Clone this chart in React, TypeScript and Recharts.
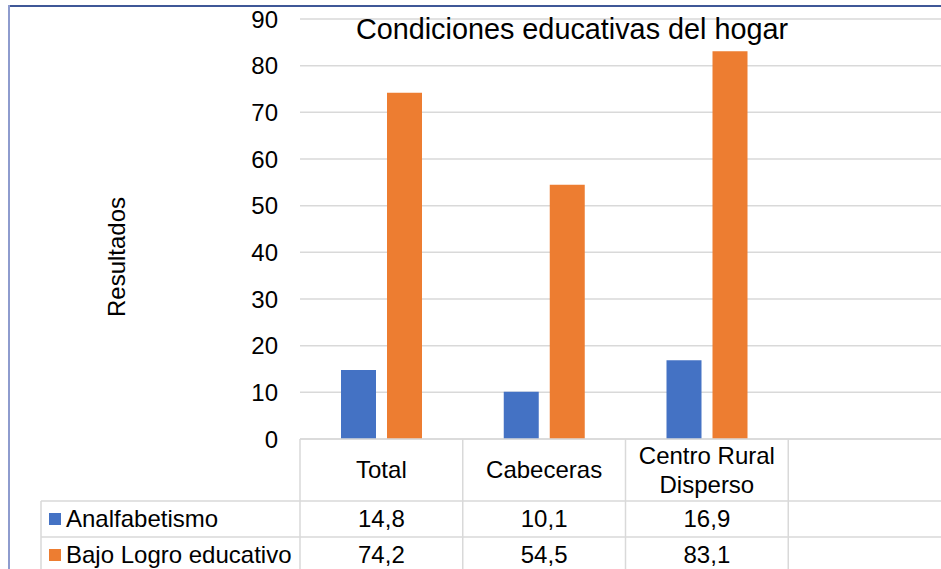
import React from 'react';
import { BarChart, Bar, XAxis, YAxis, CartesianGrid } from 'recharts';

const categories = ['Total', 'Cabeceras', 'Centro Rural Disperso', ''];
const categoryLines = [['Total'], ['Cabeceras'], ['Centro Rural', 'Disperso'], []];
const analfabetismo = [14.8, 10.1, 16.9, null];
const bajoLogro = [74.2, 54.5, 83.1, null];
const yTicks = [0, 10, 20, 30, 40, 50, 60, 70, 80, 90];

const series = [
  { key: 'analfabetismo', name: 'Analfabetismo', color: '#4472C4', values: analfabetismo },
  { key: 'bajoLogro', name: 'Bajo Logro educativo', color: '#ED7D31', values: bajoLogro },
];

const data = categories.map((c, i) => ({
  categoria: c,
  analfabetismo: analfabetismo[i],
  bajoLogro: bajoLogro[i],
}));

const FONT = '"Liberation Sans", Arial, sans-serif';
const CHART_W = 959;
const CHART_H = 569;
const AXIS_W = 300;
const MARGIN_RIGHT = 8;
const CELL_W = (CHART_W - AXIS_W - MARGIN_RIGHT) / categories.length;
const HEADER_H = 62;
const ROW_H = 36;
const LEGEND_LEFT = 41;
const LINE = '#d9d9d9';

const fmt = (v: number | null) => (v == null ? '' : v.toFixed(1).replace('.', ','));

const TableTick = (props: any) => {
  const { x, y, payload } = props;
  const i = payload.index ?? categories.indexOf(payload.value);
  const left = x - CELL_W / 2;
  const right = x + CELL_W / 2;
  const bottom = y + HEADER_H + ROW_H * series.length;
  const lines = categoryLines[i] || [];
  return (
    <g>
      <line x1={left} y1={y} x2={left} y2={bottom} stroke={LINE} strokeWidth={1.5} />
      {i === categories.length - 1 && (
        <line x1={right} y1={y} x2={right} y2={bottom} stroke={LINE} strokeWidth={1.5} />
      )}
      {series.map((s, r) => (
        <line key={s.key} x1={left} x2={right} y1={y + HEADER_H + r * ROW_H} y2={y + HEADER_H + r * ROW_H} stroke={LINE} strokeWidth={1.5} />
      ))}
      {lines.map((t, k) => (
        <text key={k} x={x} y={y + HEADER_H / 2 + (k - (lines.length - 1) / 2) * 29} dy="0.35em" textAnchor="middle" fontSize={24} fontFamily={FONT} fill="#000">
          {t}
        </text>
      ))}
      {series.map((s, r) => (
        <text key={s.key} x={x} y={y + HEADER_H + r * ROW_H + ROW_H / 2} dy="0.35em" textAnchor="middle" fontSize={24} fontFamily={FONT} fill="#000">
          {fmt(s.values[i])}
        </text>
      ))}
      {i === 0 && (
        <g>
          <line x1={LEGEND_LEFT} x2={left} y1={y + HEADER_H} y2={y + HEADER_H} stroke={LINE} strokeWidth={1.5} />
          <line x1={LEGEND_LEFT} y1={y + HEADER_H} x2={LEGEND_LEFT} y2={bottom} stroke={LINE} strokeWidth={1.5} />
          {series.map((s, r) => {
            const cy = y + HEADER_H + r * ROW_H + ROW_H / 2;
            return (
              <g key={s.key}>
                <line x1={LEGEND_LEFT} x2={left} y1={cy + ROW_H / 2} y2={cy + ROW_H / 2} stroke={LINE} strokeWidth={1.5} />
                <rect x={49} y={cy - 6} width={12} height={12} fill={s.color} />
                <text x={66} y={cy} dy="0.35em" fontSize={24} fontFamily={FONT} fill="#000">
                  {s.name}
                </text>
              </g>
            );
          })}
        </g>
      )}
    </g>
  );
};

export default function App() {
  return (
    <div
      style={{
        position: 'absolute',
        left: 0,
        top: 0,
        width: 941,
        height: 569,
        overflow: 'hidden',
        background: '#fff',
        fontFamily: FONT,
      }}
    >
      <div style={{ position: 'absolute', left: 8, top: 5, right: 0, height: 2, background: '#3f5797' }} />
      <div style={{ position: 'absolute', left: 8, top: 5, bottom: 0, width: 2, background: '#8e9cce' }} />
      <BarChart
        width={CHART_W}
        height={CHART_H}
        data={data}
        margin={{ top: 19, right: MARGIN_RIGHT, bottom: 0, left: 0 }}
        barSize={35}
        barGap={11}
      >
        <CartesianGrid vertical={false} stroke={LINE} strokeWidth={1.5} />
        <XAxis
          dataKey="categoria"
          height={130}
          interval={0}
          tickLine={false}
          axisLine={{ stroke: LINE, strokeWidth: 1.5 }}
          tickSize={0}
          tickMargin={0}
          tick={<TableTick />}
        />
        <YAxis
          width={AXIS_W}
          domain={[0, 90]}
          ticks={yTicks}
          tickLine={false}
          axisLine={false}
          tickSize={0}
          tickMargin={22}
          tick={{ fontSize: 24, fill: '#000', fontFamily: FONT }}
        />
        {series.map((s) => (
          <Bar key={s.key} dataKey={s.key} name={s.name} fill={s.color} isAnimationActive={false} />
        ))}
      </BarChart>
      <div
        style={{
          position: 'absolute',
          left: 272,
          top: 13,
          width: 600,
          textAlign: 'center',
          fontSize: 28.8,
          lineHeight: '33px',
          color: '#000',
          whiteSpace: 'nowrap',
        }}
      >
        Condiciones educativas del hogar
      </div>
      <div
        style={{
          position: 'absolute',
          left: 117,
          top: 257,
          transform: 'translate(-50%, -50%) rotate(-90deg)',
          fontSize: 24,
          color: '#000',
          whiteSpace: 'nowrap',
        }}
      >
        Resultados
      </div>
    </div>
  );
}
